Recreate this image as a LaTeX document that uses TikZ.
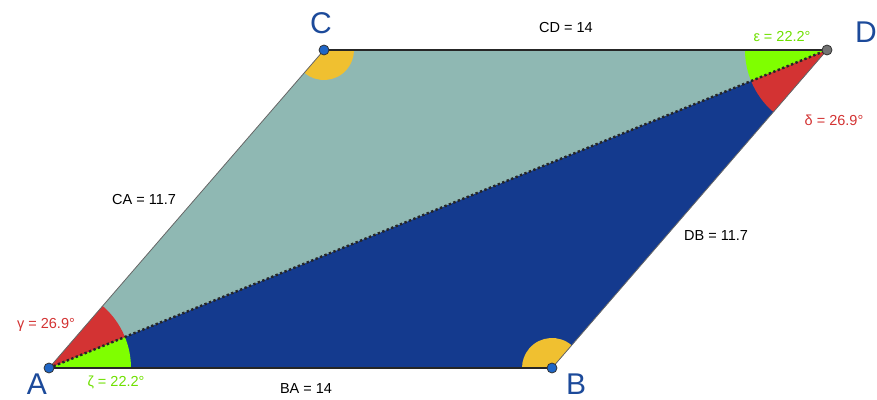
\documentclass[tikz,border=0pt]{standalone}
\usepackage{fontspec}
\setmainfont{Liberation Sans}
\begin{document}
\begin{tikzpicture}[x=1pt,y=1pt,
  lbl/.style={font=\fontsize{14.5}{16}\selectfont, inner sep=0pt},
  ptlbl/.style={font=\fontsize{30}{32}\selectfont, text=ptblue, inner sep=0pt},
  pt/.style={circle, fill=ptfill, draw=black!80, line width=0.8pt, minimum size=10pt, inner sep=0pt},
  edgeS/.style={draw=black!85, line width=1.8pt},
  edgeT/.style={draw=black!60, line width=0.8pt}]
\definecolor{teal1}{HTML}{8FB8B3}
\definecolor{navy1}{HTML}{143A8E}
\definecolor{redA}{HTML}{D33333}
\definecolor{greenA}{HTML}{7FFF00}
\definecolor{orangeA}{HTML}{F0C030}
\definecolor{ptblue}{HTML}{1C4A9A}
\definecolor{ptfill}{HTML}{1F66C6}
\definecolor{lblred}{HTML}{D33333}
\definecolor{lblgreen}{HTML}{6EE000}
\useasboundingbox (0,0) rectangle (877,399);
\coordinate (A) at (49,31);
\coordinate (B) at (552,31);
\coordinate (C) at (324,349);
\coordinate (D) at (827,349);
% faces
\fill[teal1] (A) -- (C) -- (D) -- cycle;
\fill[navy1] (A) -- (B) -- (D) -- cycle;
% angle sectors
\fill[greenA] (A) -- ++(0:82) arc[start angle=0,end angle=22.23,radius=82] -- cycle;
\fill[redA] (A) -- ++(22.23:82) arc[start angle=22.23,end angle=49.15,radius=82] -- cycle;
\fill[greenA] (D) -- ++(180:82) arc[start angle=180,end angle=202.23,radius=82] -- cycle;
\fill[redA] (D) -- ++(202.23:82) arc[start angle=202.23,end angle=229.15,radius=82] -- cycle;
\fill[orangeA] (C) -- ++(229.15:30) arc[start angle=229.15,end angle=360,radius=30] -- cycle;
\fill[orangeA] (B) -- ++(49.15:30) arc[start angle=49.15,end angle=180,radius=30] -- cycle;
% edges
\draw[edgeS] (C) -- (D);
\draw[edgeS] (B) -- (A);
\draw[edgeT] (C) -- (A);
\draw[edgeT] (D) -- (B);
\draw[black!85, line width=2.4pt, dash pattern=on 2.4pt off 2.4pt] (A) -- (D);
% points
\node[pt] (pA) at (A) {};
\node[pt] (pB) at (B) {};
\node[pt] (pC) at (C) {};
\node[pt, fill=black!55] (pD) at (D) {};
% point labels
\node[ptlbl] (lA) at (37,15) {A};
\node[ptlbl] (lB) at (576,15) {B};
\node[ptlbl] (lC) at (321,376) {C};
\node[ptlbl] (lD) at (866,367) {D};
% measure labels
\node[lbl] (lCD) at (566,371) {CD = 14};
\node[lbl] (lCA) at (144,199) {CA = 11.7};
\node[lbl] (lDB) at (716,163) {DB = 11.7};
\node[lbl] (lBA) at (306,10) {BA = 14};
\node[lbl, text=lblred] (lg) at (46,74) {γ = 26.9°};
\node[lbl, text=lblgreen] (lz) at (116,17) {ζ = 22.2°};
\node[lbl, text=lblgreen] (le) at (782,362) {ε = 22.2°};
\node[lbl, text=lblred] (ld) at (834,279) {δ = 26.9°};
\end{tikzpicture}
\end{document}
